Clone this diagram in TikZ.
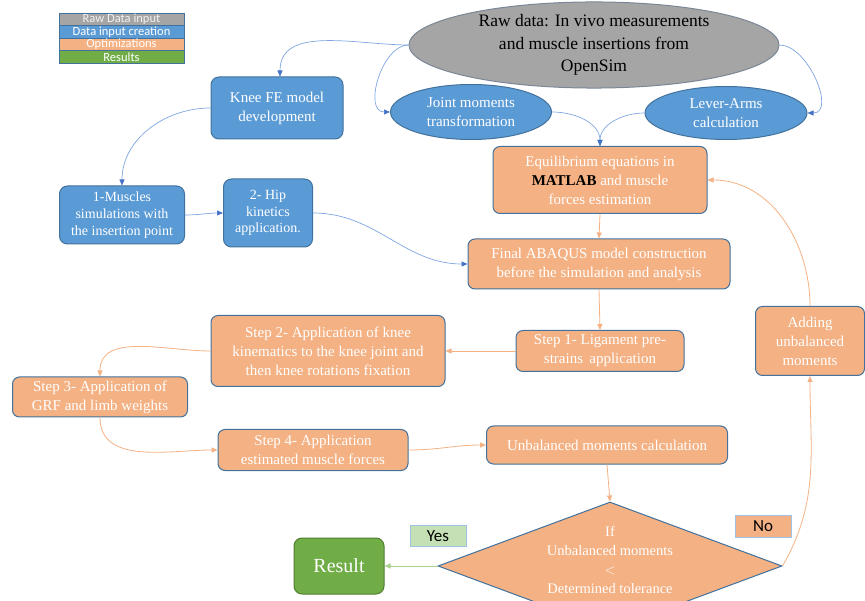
\documentclass[tikz,border=0pt]{standalone}
\usepackage{fontspec}
\setmainfont{Liberation Serif}
\newfontfamily\tagfont{Carlito}
\usetikzlibrary{shapes.geometric, arrows.meta, positioning}
\definecolor{rawgrey}{HTML}{A5A5A5}
\definecolor{rawborder}{HTML}{7A8797}
\definecolor{inputblue}{HTML}{5B9BD5}
\definecolor{inputborder}{HTML}{41719C}
\definecolor{optorange}{HTML}{F4B183}
\definecolor{resultgreen}{HTML}{70AD47}
\definecolor{resultborder}{HTML}{507E32}
\definecolor{linkblue}{HTML}{7EA6E0}
\definecolor{tipblue}{HTML}{4472C4}
\definecolor{linkgreen}{HTML}{A9D18E}
\definecolor{yesgreen}{HTML}{C5E0B4}
\definecolor{tagborder}{HTML}{9DC3E6}

\begin{document}
\begin{tikzpicture}[
    x=1pt, y=-1pt,
    font=\fontsize{15}{19}\selectfont,
    inputbox/.style={
        rectangle, rounded corners=8pt,
        draw=inputborder, line width=1pt,
        fill=inputblue, text=white,
        align=center, inner sep=1pt
    },
    inputoval/.style={
        ellipse, draw=inputborder, line width=1pt,
        fill=inputblue, text=white,
        align=center, inner sep=0pt
    },
    optbox/.style={
        rectangle, rounded corners=7pt,
        draw=inputborder, line width=1pt,
        fill=optorange, text=white,
        align=center, inner sep=1pt
    },
    legendrow/.style={
        rectangle, draw=inputborder, line width=0.8pt,
        minimum width=125pt, minimum height=12.5pt,
        inner sep=0pt, text=white,
        font=\tagfont\fontsize{12.5}{12.5}\selectfont
    },
    tagbox/.style={
        rectangle, draw=tagborder, line width=0.8pt,
        minimum width=56pt, minimum height=21pt,
        inner sep=0pt, text=black,
        font=\tagfont\fontsize{17}{17}\selectfont
    },
    bluearr/.style={
        -{Triangle[length=6pt, width=5pt, color=tipblue]},
        draw=linkblue, line width=0.7pt
    },
    orangearr/.style={
        -{Triangle[length=6pt, width=5pt]},
        draw=optorange, line width=0.8pt
    },
    greenarr/.style={
        -{Triangle[length=6pt, width=5pt]},
        draw=linkgreen, line width=0.8pt
    }
]

\path[use as bounding box, clip] (0,0) rectangle (865,601);

% ==========================================
% LEGEND
% ==========================================

\node[legendrow, fill=rawgrey, text=white!85!rawgrey] (lgraw) at (121.5,19.25) {Raw Data input};
\node[legendrow, fill=inputblue] (lginput) at (121.5,31.75) {Data input creation};
\node[legendrow, fill=optorange] (lgopt) at (121.5,44.25) {Optimizations};
\node[legendrow, fill=resultgreen] (lgres) at (121.5,56.75) {Results};

% ==========================================
% RAW DATA AND INPUT CREATION
% ==========================================

\node[ellipse, draw=rawborder, line width=1pt, fill=rawgrey,
      minimum width=370pt, minimum height=78pt, inner sep=0pt,
      align=center, font=\fontsize{17.5}{22.5}\selectfont] (raw) at (594,45)
{Raw data: In vivo measurements\\and muscle insertions from\\OpenSim};

\node[inputoval, minimum width=161pt, minimum height=55pt] (joint) at (471,112)
{Joint moments\\transformation};
\node[inputoval, minimum width=162pt, minimum height=53pt] (lever) at (726,113)
{Lever-Arms\\calculation};

\node[inputbox, minimum width=132pt, minimum height=62pt] (knee) at (277,108)
{Knee FE model\\development};
\node[inputbox, minimum width=125pt, minimum height=58pt,
      font=\fontsize{14}{16.7}\selectfont] (muscles) at (122,215)
{1-Muscles\\simulations with\\the insertion point};
\node[inputbox, minimum width=89pt, minimum height=68pt,
      font=\fontsize{14}{16.7}\selectfont] (hip) at (268,213)
{2- Hip\\kinetics\\application.};

% ==========================================
% OPTIMIZATION LOOP
% ==========================================

\node[optbox, minimum width=214pt, minimum height=67pt] (eq) at (600,180)
{Equilibrium equations in\\\textcolor{black}{\textbf{MATLAB}} and muscle\\forces estimation};
\node[optbox, minimum width=262pt, minimum height=50pt] (final) at (599,264)
{Final ABAQUS model construction\\before the simulation and analysis};
\node[optbox, minimum width=168pt, minimum height=41pt] (step1) at (600,351)
{Step 1- Ligament pre-\\strains\, application};
\node[optbox, minimum width=234pt, minimum height=71pt] (step2) at (328,351)
{Step 2- Application of knee\\kinematics to the knee joint and\\then knee rotations fixation};
\node[optbox, minimum width=175pt, minimum height=40pt] (step3) at (100,397)
{Step 3- Application of\\GRF and limb weights};
\node[optbox, minimum width=190pt, minimum height=41pt] (step4) at (313,450)
{Step 4- Application\\estimated muscle forces};
\node[optbox, minimum width=241pt, minimum height=38pt] (calc) at (607,445)
{Unbalanced moments calculation};
\node[optbox, minimum width=109pt, minimum height=69pt] (adding) at (810,341)
{Adding\\unbalanced\\moments};

\node[diamond, draw=inputborder, line width=1pt, fill=optorange, text=white,
      minimum width=344pt, minimum height=128pt, inner sep=0pt,
      font=\fontsize{14.5}{19}\selectfont] (check) at (610,566)
{\makebox[0pt]{\smash{\raisebox{1pt}{\begin{tabular}{c}If\\Unbalanced moments\\$<$\\Determined tolerance\end{tabular}}}}};

% ==========================================
% RESULT AND DECISION TAGS
% ==========================================

\node[rectangle, rounded corners=8pt, draw=resultborder, line width=1pt,
      fill=resultgreen, text=white, minimum width=90pt, minimum height=56pt,
      font=\fontsize{20}{24}\selectfont] (result) at (339,566) {Result};

\node[tagbox, fill=yesgreen] (yes) at (438,536) {Yes};
\node[tagbox, fill=optorange, minimum height=22pt] (no) at (763,526) {No};

% ==========================================
% CONNECTIONS
% ==========================================

\draw[bluearr] (raw.west) to[out=180, in=90] ([xshift=3pt]knee.north);
\draw[bluearr] (raw.west) to[out=180, in=180] (joint.west);
\draw[bluearr] (raw.east) to[out=0, in=0] (lever.east);
\draw[bluearr] (joint.east) to[out=0, in=90] (eq.north);
\draw[bluearr] (lever.west) to[out=180, in=90] (eq.north);
\draw[bluearr] (knee.west) to[out=180, in=90] (muscles.north);
\draw[bluearr] (muscles.east) to[out=0, in=180] (hip.west);
\draw[bluearr] (hip.east) to[out=0, in=180] (final.west);

\draw[orangearr] (eq.south) -- (final.north);
\draw[orangearr] (final.south) -- (step1.north);
\draw[orangearr] (step1.west) -- (step2.east);
\draw[orangearr] (step2.west) to[out=180, in=90] (step3.north);
\draw[orangearr] (step3.south) to[out=-90, in=180] (step4.west);
\draw[orangearr] (step4.east) to[out=0, in=180] (calc.west);
\draw[orangearr] (calc.south) -- (check.north);

\draw[greenarr] (check.west) -- (result.east);

% feedback loop
\draw[orangearr] (check.east) to[out=60, in=-90] (adding.south);
\draw[orangearr] (adding.north) to[out=90, in=0] (eq.east);

\end{tikzpicture}
\end{document}
